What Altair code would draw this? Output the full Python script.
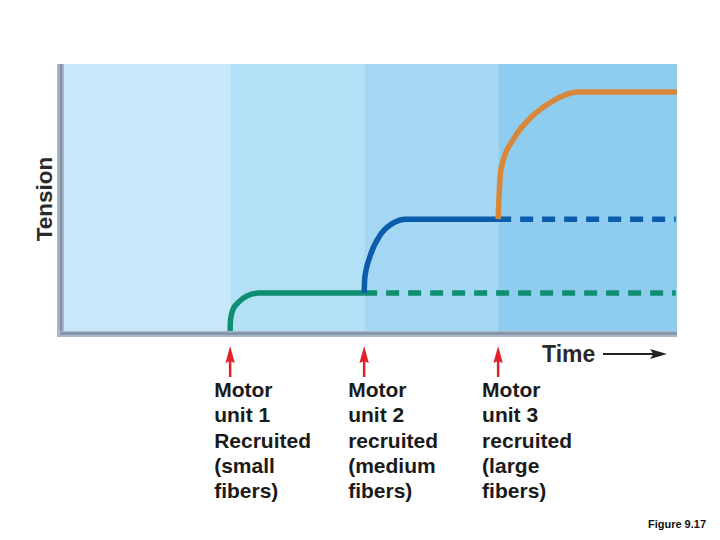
import altair as alt
import pandas as pd

# ---- data ----
recruit_times = [2.5, 4.5, 6.5]
band_starts = [0.02, 2.5, 4.5, 6.5]
band_ends = [2.5, 4.5, 6.5, 9.17]
band_colors = ["#c7e8f9", "#b4e0f6", "#a3d7f3", "#8fcdf0"]

green_t = [2.50, 2.505, 2.54, 2.63, 2.75, 2.92, 4.50]
green_v = [0.0, 0.41, 0.79, 1.09, 1.31, 1.42, 1.42]
blue_t = [4.50, 4.51, 4.59, 4.75, 4.93, 5.12, 6.50]
blue_v = [1.42, 1.99, 2.81, 3.63, 4.04, 4.19, 4.19]
orange_t = [6.50, 6.515, 6.54, 6.75, 6.95, 7.27, 7.68, 9.17]
orange_v = [4.19, 5.09, 6.03, 7.27, 7.90, 8.54, 8.95, 8.95]
green_dash_t = [4.50, 9.15]
green_dash_v = [1.42, 1.42]
blue_dash_t = [6.50, 9.15]
blue_dash_v = [4.19, 4.19]

unit_labels = [
    "Motor\nunit 1\nRecruited\n(small\nfibers)",
    "Motor\nunit 2\nrecruited\n(medium\nfibers)",
    "Motor\nunit 3\nrecruited\n(large\nfibers)",
]

XD = [0.02, 9.17]
YD = [0, 10]
xs = alt.Scale(domain=XD, nice=False, zero=False)
ys = alt.Scale(domain=YD, nice=False, zero=False)

W, H = 613, 267

bands = pd.DataFrame({"x": band_starts, "x2": band_ends, "c": band_colors,
                      "y": [0] * 4, "y2": [10] * 4})
band_layer = alt.Chart(bands).mark_rect().encode(
    x=alt.X("x:Q", scale=xs, axis=None), x2="x2:Q",
    y=alt.Y("y:Q", scale=ys, axis=None), y2="y2:Q",
    color=alt.Color("c:N", scale=None),
)


def line(ts, vs, color, dash=None):
    df = pd.DataFrame({"t": ts, "v": vs, "o": list(range(len(ts)))})
    kw = dict(color=color, strokeWidth=5.5, interpolate="monotone", clip=True)
    if dash:
        kw["strokeDash"] = dash
        kw["strokeCap"] = "butt"
        kw["interpolate"] = "linear"
    return alt.Chart(df).mark_line(**kw).encode(
        x=alt.X("t:Q", scale=xs, axis=None),
        y=alt.Y("v:Q", scale=ys, axis=None),
        order="o:Q",
    )


GREEN, BLUE, ORANGE = "#0e8f72", "#0b5cab", "#d8873a"
lines = [
    line(green_dash_t, green_dash_v, GREEN, [13, 9]),
    line(blue_dash_t, blue_dash_v, BLUE, [13, 9]),
    line(green_t, green_v, GREEN),
    line(blue_t, blue_v, BLUE),
    line(orange_t, orange_v, ORANGE),
]

# frame (axes look)
dummy = pd.DataFrame({"a": [0]})
frame = [
    alt.Chart(dummy).mark_rule(color="#a9b7c6", strokeWidth=7).encode(
        x=alt.value(-3.5), y=alt.value(0), y2=alt.value(273)),
    alt.Chart(dummy).mark_rule(color="#8192a7", strokeWidth=2.5).encode(
        x=alt.value(-3), y=alt.value(0), y2=alt.value(270)),
    alt.Chart(dummy).mark_rule(color="#a9b7c6", strokeWidth=6).encode(
        y=alt.value(270), x=alt.value(-7), x2=alt.value(W)),
    alt.Chart(dummy).mark_rule(color="#8192a7", strokeWidth=2.5).encode(
        y=alt.value(269.5), x=alt.value(-4), x2=alt.value(W)),
]

rec = pd.DataFrame({"t": recruit_times, "label": unit_labels})
arrow_shaft = alt.Chart(rec).mark_rule(color="#e2202c", strokeWidth=2.5).encode(
    x=alt.X("t:Q", scale=xs, axis=None), y=alt.value(295), y2=alt.value(313))
arrow_head = alt.Chart(rec).mark_point(
    shape="M0,-1L0.55,1L0,0.75L-0.55,1Z", size=289, filled=True,
    color="#e2202c", opacity=1).encode(
    x=alt.X("t:Q", scale=xs, axis=None), y=alt.value(290.5))
unit_text = alt.Chart(rec).mark_text(
    align="left", baseline="middle", dx=-16, lineBreak="\n", lineHeight=25.3,
    fontSize=21, fontWeight="bold", font="Liberation Sans",
    color="#1a1a1a").encode(
    x=alt.X("t:Q", scale=xs, axis=None), y=alt.value(327), text="label:N")

tension = alt.Chart(dummy).mark_text(
    text="Tension", angle=270, fontSize=22.5, fontWeight="bold",
    font="Liberation Sans", color="#2a2a2a", baseline="middle", align="center"
).encode(x=alt.value(-19), y=alt.value(135))
time_t = alt.Chart(dummy).mark_text(
    text="Time", fontSize=23, fontWeight="bold", font="Liberation Sans",
    color="#2a2a2a", baseline="middle", align="left").encode(
    x=alt.value(478), y=alt.value(291))
time_line = alt.Chart(dummy).mark_rule(color="#222222", strokeWidth=2).encode(
    x=alt.value(539), x2=alt.value(590), y=alt.value(290))
time_head = alt.Chart(dummy).mark_point(
    shape="M1,0L-1,-0.6L-0.6,0L-1,0.6Z", size=289, filled=True,
    color="#222222", opacity=1).encode(x=alt.value(594.5), y=alt.value(290))
fig = alt.Chart(dummy).mark_text(
    text="Figure 9.17", fontSize=11, fontWeight="bold", font="Liberation Sans",
    color="#111111", align="right", baseline="middle").encode(
    x=alt.value(642), y=alt.value(461))

chart = alt.layer(
    band_layer, *lines, *frame, arrow_shaft, arrow_head, unit_text,
    tension, time_t, time_line, time_head, fig,
).properties(
    width=W, height=H,
    autosize=alt.AutoSizeParams(type="none"),
    padding={"left": 56, "top": 56, "right": 35, "bottom": 201},
    background="white",
).configure_view(stroke=None)

chart.save("out.html", embed_options={"renderer": "svg", "actions": False})
